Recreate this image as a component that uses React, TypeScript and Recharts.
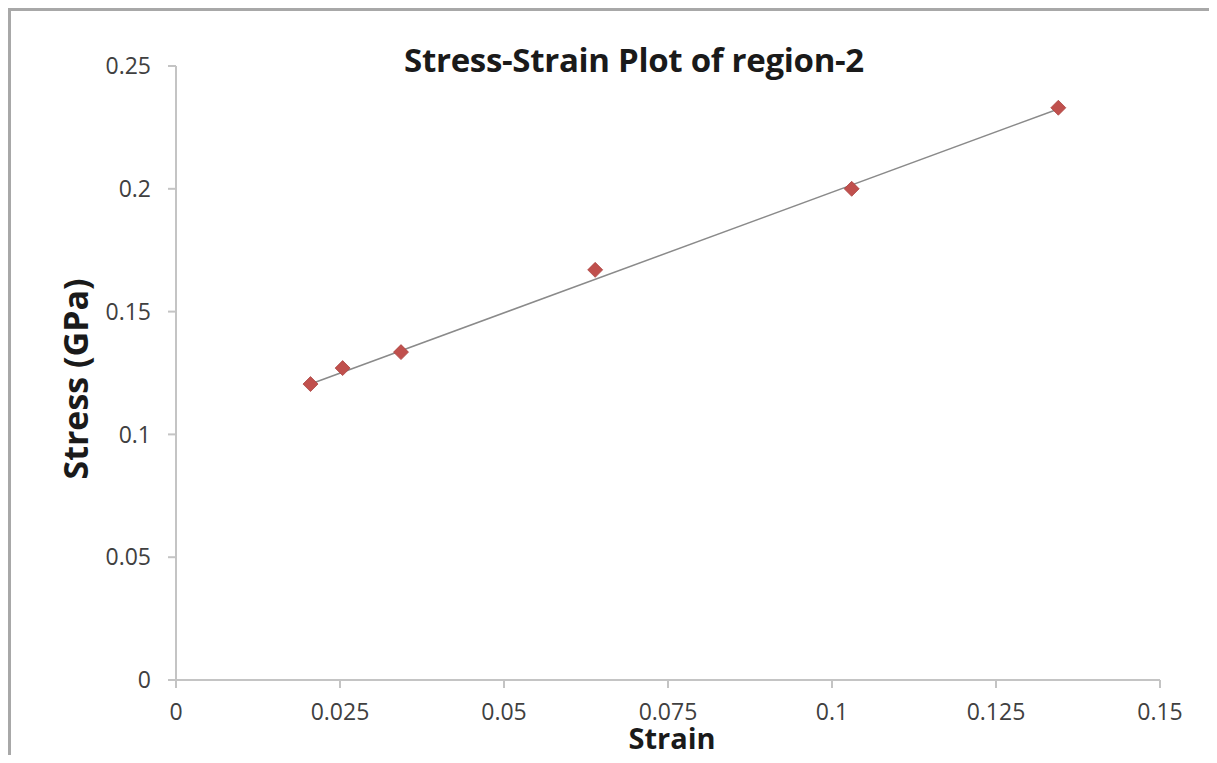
import React from 'react';
import {
  ScatterChart,
  Scatter,
  XAxis,
  YAxis,
  Label,
} from 'recharts';

// measured points (strain, stress in GPa)
const strain = [0.0205, 0.0254, 0.0343, 0.0639, 0.103, 0.1345];
const stress = [0.1205, 0.127, 0.1335, 0.167, 0.2, 0.233];

// linear trendline end points
const trendStrain = [0.0205, 0.1345];
const trendStress = [0.1205, 0.2325];

const xTicks = [0, 0.025, 0.05, 0.075, 0.1, 0.125, 0.15];
const yTicks = [0, 0.05, 0.1, 0.15, 0.2, 0.25];

const points = strain.map((x, i) => ({ x, y: stress[i] }));
const trend = trendStrain.map((x, i) => ({ x, y: trendStress[i] }));

const FONT = '"Open Sans", "Liberation Sans", sans-serif';
const AXIS = '#c4c4c4';
const TICK_TEXT = { fill: '#404040', fontSize: 23, fontFamily: FONT };

const W = 1209;
const H = 747;

// Excel-style square diamond marker
const Diamond = (props: any) => {
  const { cx, cy } = props;
  if (cx == null || cy == null) return null;
  const r = 7.5;
  return (
    <path
      d={`M${cx},${cy - r}L${cx + r},${cy}L${cx},${cy + r}L${cx - r},${cy}Z`}
      fill="#c0504d"
      stroke="#a8403d"
      strokeWidth={0.75}
    />
  );
};

export default function App() {
  return (
    <div style={{ position: 'relative', width: W, height: H, background: '#fff', fontFamily: FONT }}>
      {/* frame of the original picture */}
      <div
        style={{
          position: 'absolute',
          left: 0,
          top: 0,
          width: W,
          height: H,
          borderTop: '3px solid #a8a8a8',
          borderLeft: '3px solid #a8a8a8',
          boxSizing: 'border-box',
        }}
      />
      <div
        style={{
          position: 'absolute',
          left: 326,
          top: 36,
          width: 600,
          textAlign: 'center',
          fontSize: 33,
          lineHeight: '32px',
          fontWeight: 700,
          color: '#1a1a1a',
          letterSpacing: -0.3,
        }}
      >
        Stress-Strain Plot of region-2
      </div>
      <div style={{ position: 'absolute', left: 0, top: 0 }}>
        <ScatterChart width={W} height={H} margin={{ top: 58, right: 57, bottom: 35, left: 108 }}>
          <XAxis
            type="number"
            dataKey="x"
            domain={[0, 0.15]}
            ticks={xTicks}
            interval={0}
            height={40}
            stroke={AXIS}
            strokeWidth={2}
            tickSize={8}
            tickMargin={16}
            tick={TICK_TEXT}
            allowDataOverflow
          >
            <Label
              content={({ viewBox }: any) => (
                <text
                  x={viewBox.x + viewBox.width / 2 + 4}
                  y={741}
                  textAnchor="middle"
                  fontFamily={FONT}
                  fontSize={29}
                  fontWeight={700}
                  fill="#1a1a1a"
                >
                  Strain
                </text>
              )}
            />
          </XAxis>
          <YAxis
            type="number"
            dataKey="y"
            domain={[0, 0.25]}
            ticks={yTicks}
            interval={0}
            width={60}
            stroke={AXIS}
            strokeWidth={2}
            tickSize={8}
            tickMargin={17}
            tick={TICK_TEXT}
            allowDataOverflow
          >
            <Label
              content={({ viewBox }: any) => {
                const cy = viewBox.y + viewBox.height / 2 + 6;
                return (
                  <text
                    x={67}
                    y={cy}
                    textAnchor="middle"
                    dominantBaseline="central"
                    transform={`rotate(-90, 67, ${cy})`}
                    fontFamily={FONT}
                    fontSize={34}
                    fontWeight={700}
                    fill="#1a1a1a"
                  >
                    Stress (GPa)
                  </text>
                );
              }}
            />
          </YAxis>
          <Scatter
            data={trend}
            line={{ stroke: '#8a8a8a', strokeWidth: 1.5 }}
            shape={() => null}
            isAnimationActive={false}
          />
          <Scatter data={points} shape={<Diamond />} isAnimationActive={false} />
        </ScatterChart>
      </div>
    </div>
  );
}
